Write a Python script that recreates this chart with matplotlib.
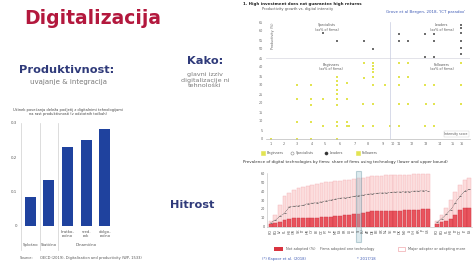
import matplotlib
matplotlib.use("Agg")
import matplotlib.pyplot as plt
from matplotlib.patches import Rectangle
from matplotlib.lines import Line2D

# ---- data -------------------------------------------------------------
# left bar chart (effect on productivity)
bar_vals = [0.085, 0.134, 0.229, 0.249, 0.281]
bar_sub = ["", "", "kratko-\nročno", "sred.\nrok", "dolgo-\nročno"]
bar_groups = [(0, "Splošno"), (1, "Statično"), (3, "Dinamično")]
bar_yticks = [0, 0.1, 0.2, 0.3]

# scatter (investment vs returns)
dark_x = [27.8, 35.0, 48.0, 52.3, 65.3, 65.3, 69.8, 77.9, 82.5, 82.5, 77.9, 82.5,
          95.6, 95.6, 95.6, 95.6, 95.6, 95.6]
dark_y = [58.7, 54.3, 54.6, 49.8, 58.2, 54.3, 54.3, 58.2, 58.2, 54.3, 45.7, 45.7,
          63.3, 61.8, 58.7, 54.6, 50.4, 47.1]
yel_x = [48.0, 52.3, 52.3, 52.3, 52.3, 65.3, 69.8, 95.6, 34.7, 48.0, 52.3, 65.3, 69.8,
         15.0, 21.9, 34.7, 39.7, 52.3, 58.3, 65.3, 77.9, 82.5, 95.6, 34.7, 34.7, 34.7,
         15.0, 21.9, 28.1, 34.7, 39.6, 47.7, 52.3, 65.3, 69.8, 78.3, 82.5, 95.6,
         21.9, 34.7, 15.0, 21.9, 34.7, 39.6, 28.1, 34.7, 39.6, 40.7, 47.7, 52.3,
         60.8, 65.3, 77.9, 82.5, 2.3, 15.0, 21.9, 34.7]
yel_y = [42.1, 42.1, 40.6, 38.9, 37.2, 42.1, 42.1, 42.1, 34.6, 33.9, 34.4, 34.4, 34.4,
         30.0, 30.0, 30.0, 31.1, 30.0, 30.0, 30.0, 30.0, 30.0, 30.0, 32.5, 27.2, 25.0,
         22.1, 22.1, 22.1, 22.1, 22.1, 19.4, 19.4, 19.4, 19.4, 19.4, 19.4, 19.4,
         19.1, 19.1, 9.3, 9.3, 9.3, 9.3, 7.4, 7.4, 7.4, 7.4, 7.4, 7.4,
         7.2, 7.2, 7.2, 7.2, 0.0, 0.0, 0.0, 0.0]
sc_xticks = [2.5, 8.8, 15.2, 22.5, 28.9, 36.3, 43.6, 50.0, 57.4, 62.3, 65.2,
             71.6, 78.4, 85.3, 91.7, 96.1]
sc_xlabels = ["1", "2", "3", "4", "5", "6", "7", "8", "9", "10", "11",
              "12", "13", "14", "15", "16"]
sc_yticks = list(range(0, 66, 5))
quad_labels = [(30, 62, "Specialists\n(xx% of firms)"), (86, 62, "Leaders\n(xx% of firms)"),
               (32, 40, "Beginners\n(xx% of firms)"), (86, 40, "Followers\n(xx% of firms)")]

# lower stacked chart (adoption by country)
codes1 = ["RO", "BG", "LV", "PL", "HU", "GR", "SK", "LT", "HR", "CY", "EE", "CZ",
          "PT", "IT", "MT", "ES", "FR", "LU", "IE", "SI", "EU", "AT", "DE", "BE",
          "UK", "NL", "SE", "FI", "DK", "NO", "IS", "CH", "KR", "JP", "US"]
pink1 = [6, 13, 24, 34, 38, 41, 43, 44.5, 46, 47, 48, 49, 50, 50, 51, 51, 52.5, 53,
         53.5, 55, 55, 56, 56.5, 57, 57.5, 58, 58, 58, 58.5, 58.5, 58.5, 59, 59, 59, 59]
red1 = [3, 4, 5, 7, 9, 9.5, 9.5, 9.5, 10, 10, 10, 10.5, 10.5, 11, 12, 12.5, 13, 13.5,
        14, 14.5, 15, 17, 17.5, 17.5, 17.5, 18, 18, 18, 18, 18.5, 19, 19, 19, 19.5, 19.5]
line1 = [4.5, 7.5, 12, 15, 22.5, 23, 23.5, 24, 26, 26.5, 27, 28, 29, 30, 31, 32, 32.5,
         33, 34, 35, 35.5, 36.5, 37, 37.5, 38, 38, 38.5, 39, 39, 39.5, 39.5, 40, 40,
         40.5, 40.5]
codes2 = ["RO", "BG", "PL", "HU", "LT", "CZ", "IT", "ES"]
pink2 = [6, 13, 21, 30, 39, 47, 52, 55]
red2 = [3, 5, 6, 9, 13, 19, 21, 21]
line2 = [5, 9, 14, 19, 27, 34, 40, 42]
highlight = "SI"

# ---- figure -----------------------------------------------------------
W, H = 473, 267
fig = plt.figure(figsize=(4.73, 2.67), dpi=100)
fig.patch.set_facecolor("white")

NAVY = "#2f3a7a"
GREY = "#7a7a7a"


def box(l, t, r, b):
    return [l / W, 1 - b / H, (r - l) / W, (b - t) / H]


def ftext(x, y, s, **kw):
    fig.text(x / W, 1 - y / H, s, **kw)


# headings
ftext(24, 19, "Digitalizacija", fontsize=13.5, fontweight="bold", color="#b3183d",
      va="center", ha="left")
ftext(67, 70, "Produktivnost:", fontsize=8.2, fontweight="bold", color=NAVY,
      va="center", ha="center")
ftext(68, 82, "uvajanje & integracija", fontsize=5, color=GREY, va="center", ha="center")
ftext(205, 61, "Kako:", fontsize=8.2, fontweight="bold", color=NAVY, va="center", ha="center")
ftext(205, 80, "glavni izziv\ndigitalizacije ni\ntehnološki", fontsize=4.6, color=GREY,
      va="center", ha="center", linespacing=1.15)
ftext(192, 205, "Hitrost", fontsize=8.2, fontweight="bold", color=NAVY,
      va="center", ha="center")

# ---- left bar chart ---------------------------------------------------
ftext(68, 112, "Učinek povečanja deleža podjetij z digitalnimi tehnologijami\n"
      "na rast produktivnosti (v odstotnih točkah)", fontsize=2.6, color="#444",
      ha="center", va="center")
ax1 = fig.add_axes(box(21, 122.7, 114, 225.7))
x = list(range(len(bar_vals)))
ax1.bar(x, bar_vals, width=0.6, color="#1f429e")
ax1.set_xlim(-0.5, len(bar_vals) - 0.5)
ax1.set_ylim(0, 0.3)
ax1.set_yticks(bar_yticks)
ax1.set_yticklabels([f"{v:g}" for v in bar_yticks])
ax1.set_xticks(x)
ax1.set_xticklabels(bar_sub, linespacing=1.0)
ax1.tick_params(length=0, labelsize=2.8, colors="#555", pad=3)
for s in ax1.spines.values():
    s.set_visible(False)
for sep in [-0.5, 0.5, 1.5]:
    ax1.plot([sep, sep], [-0.072, 0.3], color="#cfcfcf", lw=0.5, clip_on=False)
for pos, name in bar_groups:
    ax1.text(pos, -0.055, name, fontsize=2.8, color="#555", ha="center", va="center")
ftext(20, 258, "Source:", fontsize=2.6, color="#555", va="center")
ftext(40, 258, "OECD (2019), Digitalisation and productivity (WP, 1533)", fontsize=2.6,
      color="#555", va="center")

# ---- scatter ----------------------------------------------------------
ftext(243, 3.5, "1. High investment does not guarantee high returns", fontsize=2.9,
      fontweight="bold", color="#222", va="center")
ftext(262, 9, "Productivity growth vs. digital intensity", fontsize=2.6, color="#555",
      va="center")
ftext(386, 12, "Grove et al Bergen, 2018, 'ICT paradox'", fontsize=2.9,
      color="#3f5bb5", va="center")
ax2 = fig.add_axes(box(266, 22, 470, 139))
ax2.scatter(yel_x, yel_y, s=2.6, marker="s", color="#e2e452", linewidths=0)
ax2.scatter(dark_x, dark_y, s=2.4, marker="s", color="#6e6e6e", linewidths=0)
ax2.axhline(45, color="#d8d8e0", lw=0.5)
ax2.axvline(60.8, color="#c8cce0", lw=0.5)
ax2.set_xlim(0, 100)
ax2.set_ylim(0, 65)
ax2.set_yticks(sc_yticks)
ax2.set_xticks(sc_xticks)
ax2.set_xticklabels(sc_xlabels)
ax2.tick_params(length=0, labelsize=2.4, colors="#666", pad=2)
for k in ["top", "right", "left"]:
    ax2.spines[k].set_visible(False)
ax2.spines["bottom"].set_color("#bbbbbb")
ax2.spines["bottom"].set_linewidth(0.5)
for qx, qy, qs in quad_labels:
    ax2.text(qx, qy, qs, fontsize=2.4, color="#555", ha="center", va="center")
ax2.text(99, 1.5, "Intensity score", fontsize=2.3, color="#555", ha="right", va="bottom",
         bbox=dict(boxstyle="square,pad=0.3", fc="white", ec="#cccccc", lw=0.3))
ftext(273, 36, "Productivity (%)", fontsize=2.4, color="#666", rotation=90,
      ha="center", va="center")
legend_items = [(263, "s", "#e2e452", "#e2e452", "Beginners"),
                (292, "o", "white", "#888888", "Specialists"),
                (326, "o", "#333333", "#333333", "Leaders"),
                (358, "s", "#e2e452", "#e2e452", "Followers")]
for lx, mk, fc, ec, lab in legend_items:
    fig.add_artist(Line2D([lx / W], [1 - 153 / H], marker=mk, ms=2.2, mfc=fc, mec=ec,
                          mew=0.4, transform=fig.transFigure))
    ftext(lx + 4, 153, lab, fontsize=2.4, color="#555", va="center")

# ---- lower stacked chart ---------------------------------------------
ftext(243, 162, "Prevalence of digital technologies by firms: share of firms using "
      "technology (lower and upper bound)", fontsize=2.9, color="#333",
      va="center")
ax3 = fig.add_axes(box(267, 173.3, 472, 226.7))
pos1 = list(range(len(codes1)))
pos2 = [len(codes1) + 1 + i for i in range(len(codes2))]
for pos, pink, red, line in [(pos1, pink1, red1, line1), (pos2, pink2, red2, line2)]:
    ax3.bar(pos, pink, width=0.82, color="#fcdcdc", edgecolor="#f2b0b5", lw=0.3)
    ax3.bar(pos, red, width=0.82, color="#e9545e", edgecolor="#cc3340", lw=0.3)
    ax3.plot(pos, line, ls=(0, (1, 1.2)), lw=0.5, color="#555", marker="_", ms=1.6,
             mew=0.5)
hi = pos1[codes1.index(highlight)]
ax3.add_patch(Rectangle((hi - 0.6, -17), 1.2, 80, fill=True, fc="#9fc3cf", alpha=0.35,
                        ec="#4f8596", lw=0.8, clip_on=False))
ax3.set_xlim(-0.8, 43.6)
ax3.set_ylim(0, 60)
ax3.set_yticks(range(0, 61, 10))
ax3.set_xticks(pos1 + pos2)
ax3.set_xticklabels(codes1 + codes2, rotation=90)
ax3.tick_params(length=0, labelsize=2.4, colors="#555", pad=1.5)
for k in ["top", "right"]:
    ax3.spines[k].set_visible(False)
for k in ["left", "bottom"]:
    ax3.spines[k].set_color("#bbbbbb")
    ax3.spines[k].set_linewidth(0.4)

fig.add_artist(Rectangle((274 / W, 1 - 251 / H), 9 / W, 4 / H, fc="#d9343f", ec="none",
                         transform=fig.transFigure))
ftext(286, 249, "Not adopted (%)    Firms adopted one technology", fontsize=2.5,
      color="#555", va="center")
fig.add_artist(Rectangle((398 / W, 1 - 251 / H), 7 / W, 4 / H, fc="white", ec="#f0a9ae",
                         lw=0.5, transform=fig.transFigure))
ftext(408, 249, "Major adopter or adopting more", fontsize=2.5,
      color="#555", va="center")
ftext(262, 259, "(*) Kapoor et al. (2018)", fontsize=2.7,
      color="#3f5bb5", va="center")
ftext(357, 259, "* 2017/18", fontsize=2.7, color="#3f5bb5", va="center")

fig.savefig("out.png", dpi=100)
